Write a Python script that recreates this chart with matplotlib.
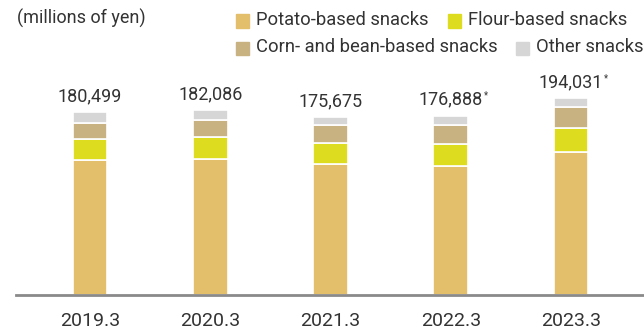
import matplotlib

matplotlib.use("Agg")
import matplotlib.pyplot as plt  # noqa: E402
from matplotlib.patches import Rectangle  # noqa: E402
import numpy as np  # noqa: E402

years = ["2019.3", "2020.3", "2021.3", "2022.3", "2023.3"]
potato = [133200, 133800, 128900, 127200, 141100]
flour = [20700, 21700, 21300, 21700, 23700]
corn = [16000, 17400, 17200, 18700, 20400]
other = [10500, 9200, 8200, 9200, 8800]
totals = [180499, 182086, 175675, 176888, 194031]
starred = [False, False, False, True, True]

series = [
    ("Potato-based snacks", potato, "#E3BE6B"),
    ("Flour-based snacks", flour, "#DEDC1F"),
    ("Corn- and bean-based snacks", corn, "#C8B282"),
    ("Other snacks", other, "#D6D6D6"),
]

plt.rcParams["font.family"] = ["Roboto", "DejaVu Sans"]
TXT = "#333333"
W, H = 644, 333

fig = plt.figure(figsize=(6.44, 3.33), dpi=100)
ax = fig.add_axes([16 / W, 38 / H, 628 / W, 255 / H])

x = np.arange(len(years))
bottom = np.zeros(len(years))
for name, vals, color in series:
    ax.bar(x, vals, 0.29, bottom=bottom, color=color, edgecolor="white", linewidth=1.2)
    bottom += np.array(vals)

for xi, tot, star in zip(x, totals, starred):
    top = bottom[xi]
    t = ax.annotate(f"{tot:,}", (xi, top), xytext=(0, 8), textcoords="offset points",
                    ha="center", va="baseline", fontsize=13, color=TXT)
    if star:
        ax.annotate("*", xy=(1.0, 1.0), xycoords=t, xytext=(0.5, 0), textcoords="offset points",
                    ha="left", va="top", fontsize=7, color=TXT)

ax.set_xlim(-0.615, 4.607)
ax.set_ylim(0, 251550)
ax.set_xticks(x)
ax.set_xticklabels(years, fontsize=14, color=TXT)
ax.tick_params(axis="x", length=0, pad=12)
ax.set_yticks([])
for side in ["top", "right", "left"]:
    ax.spines[side].set_visible(False)
ax.spines["bottom"].set_color("#8A8A8A")
ax.spines["bottom"].set_linewidth(2)

fig.text(17 / W, 1 - 18.5 / H, "(millions of yen)", fontsize=13, color=TXT,
         ha="left", va="center")

legend_pos = [(236, 21), (448, 21), (236, 48), (516, 48)]
for (name, vals, color), (px, py) in zip(series, legend_pos):
    fig.patches.append(Rectangle((px / W, 1 - (py + 6.5) / H), 13 / W, 13 / H,
                                 transform=fig.transFigure, color=color))
    fig.text((px + 20) / W, 1 - (py - 1) / H, name, fontsize=13.2, color=TXT,
             ha="left", va="center")

fig.savefig("out.png", dpi=100)
